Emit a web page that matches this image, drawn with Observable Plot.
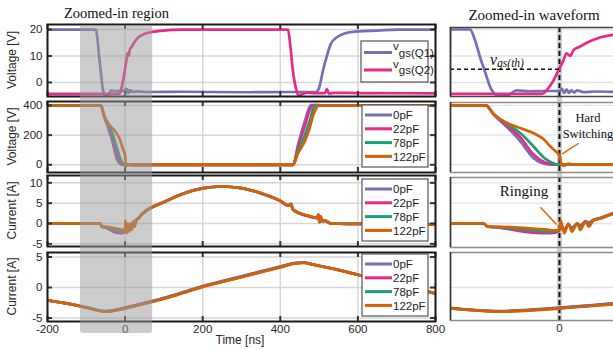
<!DOCTYPE html>
<html><head><meta charset="utf-8">
<script src="https://cdn.jsdelivr.net/npm/d3@7"></script>
<script src="https://cdn.jsdelivr.net/npm/@observablehq/plot@0.6"></script>
<style>
html,body{margin:0;padding:0;background:#fff;}
#root{position:relative;width:613px;height:350px;overflow:hidden;background:#fff;}
</style></head><body><div id="root"></div>
<script>
// ---------------- data ----------------
const xDomainL = [-200, 800];
const xTicksL = [-200, 0, 200, 400, 600, 800];
const xDomainR = [-91.6, 51.3];
const xTicksR = [0];
const switchT = [0];
const zoomRegion = [{start: -115, end: 71}];

const capLabels = ["0pF", "22pF", "78pF", "122pF"];
const capColors = ["#7570b3", "#e7298a", "#1b9e77", "#d95f02"];
const gateLabels = ["Q1", "Q2"];
const gateColors = ["#7570b3", "#e7298a"];

// gate-source voltages [V]
const tQ1 = [-200,-120,-78,-75,-72,-66,-63,-58,-52,-44,-36,-25,-12,0,2,4,6,8,10,12,15,20,30,60,150,300,440,490,495,500,505,510,520,530,545,565,600,650,700,800];
const vQ1 = [20,20,20,20,17.3,8.5,4.6,-1.9,-4.8,-4.8,-3,-3.3,-3.2,-3.2,-2.3,-3.9,-2.6,-3.9,-3,-3.7,-3,-3.6,-3.4,-3.6,-3.5,-3.7,-3.6,-3.6,-3.4,-2,1,4.5,10,14.5,17,18.5,19.3,19.6,20,20];
const tQ2 = [-200,-100,-30,-15,-10,-5,0,3,6,9,12,17,23,34,45,60,90,150,300,420,425,432,440,447,455,470,490,515,520,525,540,600,800];
const vQ2 = [-4.3,-4.3,-4.3,-4.3,-2.5,0.8,5.4,8,11,10,12.3,13.5,15,17,18,18.8,19.5,20,20,20,15,5,-2,-5,-4.5,-3.8,-4,-4,-2.5,-4.2,-3.9,-4,-4.1];
const vth = [5];

// drain-source voltage [V]
const tV = [-200,-62,-55,-44,-33,-22,-13,-8,-5,-2,0,2,4,7,12,60,300,433,446,463,476,480,486,490,498,505,520,800];
const vds0   = [400,400,335,252,158,45,5,0,0,0,0,0,-3,2,0,0,0,0,137,292,393,405,400,400,400,400,400,400];
const vds22  = [400,400,338,265,185,70,17,4,0,0,0,0,-3,2,0,0,0,0,125,260,370,390,405,400,400,400,400,400];
const vds78  = [400,400,340,275,213,124,46,20,8,0,0,0,-4,3,0,0,0,0,100,200,300,335,385,405,400,400,400,400];
const vds122 = [400,400,337,281,247,213,169,125,102,82,60,0,-8,5,0,0,0,0,80,158,250,290,345,365,405,400,400,400];

// current (upper) [A]
const tI = [-200,-64,-60,-50,-40,-30,-20,-10,-5,-2,0,1,4,7.5,10.5,15,17.5,22,24.5,28.5,35,45,50,100,150,200,250,300,350,400,420,428,432,440,460,480,495,498,501,504,508,515,531,600,800];
const i0   = [0,0,-0.8,-1.0,-1.4,-1.8,-2.1,-2.2,-2.2,-2.0,-1.5,-0.6,-1.4,-0.4,-1.0,0,-0.5,0.5,0.2,0.9,1.4,2.5,2.9,5.3,7.4,8.7,9.1,8.7,7.4,5.5,4.4,4.9,3.5,2.9,2.1,1.6,1.3,2.0,0.5,1.4,0.6,0.6,0,-0.1,-0.3];
const i22  = [0,0,-0.8,-1.0,-1.5,-2.0,-2.3,-2.4,-2.3,-2.1,-1.6,-0.5,-1.6,-0.3,-1.2,0,-0.7,0.5,0,0.8,1.4,2.5,2.9,5.3,7.4,8.7,9.1,8.7,7.4,5.5,4.4,4.8,3.5,2.9,2.1,1.6,1.3,2.1,0.4,1.5,0.6,0.7,0,-0.1,-0.3];
const i78  = [0,0,-0.8,-0.9,-1.2,-1.5,-1.8,-2.0,-2.0,-1.9,-1.4,0,-1.9,-0.2,-1.5,0,-1.0,0.5,-0.3,0.8,1.3,2.4,2.8,5.2,7.3,8.6,9.1,8.7,7.5,5.6,4.5,4.7,3.6,3.0,2.2,1.7,1.4,2.2,0.3,1.6,0.6,0.7,0,-0.1,-0.3];
const i122 = [0,0,-0.8,-0.8,-0.9,-1.1,-1.3,-1.5,-1.7,-1.7,-1.2,0.7,-2.4,0,-2,0,-1.6,0.5,-0.8,0.7,1.3,2.4,2.8,5.2,7.3,8.6,9.1,8.7,7.5,5.6,4.5,4.6,3.6,3.0,2.2,1.7,1.4,2.3,0.3,1.8,0.6,0.8,0,-0.1,-0.3];

// current (lower) [A]
const t4 = [-200,-150,-100,-50,0,45,100,150,200,250,300,350,400,440,460,480,550,600,700,800];
const j0   = [-2.1,-2.6,-3.25,-3.85,-3.3,-2.6,-1.7,-0.75,0.25,1.05,1.85,2.65,3.45,4.05,4.1,3.85,2.9,2.1,0.55,-0.95];
const j22  = [-2.1,-2.6,-3.28,-3.9,-3.35,-2.65,-1.75,-0.8,0.2,1.0,1.8,2.6,3.4,4.0,4.1,3.85,2.9,2.1,0.55,-0.95];
const j78  = [-2.1,-2.6,-3.3,-3.92,-3.4,-2.7,-1.8,-0.85,0.15,0.95,1.75,2.55,3.35,3.98,4.07,3.82,2.87,2.07,0.52,-0.98];
const j122 = [-2.1,-2.6,-3.3,-3.95,-3.45,-2.75,-1.85,-0.9,0.1,0.9,1.7,2.5,3.3,3.95,4.05,3.8,2.85,2.05,0.5,-1.0];

// annotations (data units)
const hardArrow = [{t1: 2.3, v1: 72, t2: 16.2, v2: 144}];
const ringArrow = [{t1: -2.5, v1: -0.25, t2: -16, v2: 4.0}];

// ---------------- build ----------------
const FONT = '"Liberation Sans", Arial, sans-serif';
const SERIF = '"Liberation Serif", "Times New Roman", serif';
const root = document.getElementById("root");
function place(svg, left, top) {
  svg.style.position = "absolute";
  svg.style.left = left + "px";
  svg.style.top = top + "px";
  root.appendChild(svg);
  return svg;
}
function rows(t, v, s) { return t.map((d, i) => ({t: d, v: v[i], s})); }

const vgsData = [...rows(tQ1, vQ1, "Q1"), ...rows(tQ2, vQ2, "Q2")];
const vdsData = [...rows(tV, vds0, "0pF"), ...rows(tV, vds22, "22pF"), ...rows(tV, vds78, "78pF"), ...rows(tV, vds122, "122pF")];
const iData = [...rows(tI, i0, "0pF"), ...rows(tI, i22, "22pF"), ...rows(tI, i78, "78pF"), ...rows(tI, i122, "122pF")];
const jData = [...rows(t4, j0, "0pF"), ...rows(t4, j22, "22pF"), ...rows(t4, j78, "78pF"), ...rows(t4, j122, "122pF")];

const baseStyle = {background: "transparent", fontFamily: FONT, fontSize: "11.5px", color: "#262626", overflow: "visible"};

const panels = [
  {data: vgsData, series: gateLabels, colors: gateColors, top: 24, bottom: 96, yDomain: [-5.3, 21.9], yTicks: [0, 10, 20],
   rTop: 27, rBottom: 96, rDomain: [-5.28, 20.75], rGrid: [0, 10, 20], rStroke: "#444"},
  {data: vdsData, series: capLabels, colors: capColors, top: 101, bottom: 172, yDomain: [-52, 427], yTicks: [0, 200, 400],
   rTop: 102, rBottom: 172, rDomain: [-54, 420], rGrid: [0, 200, 400], rStroke: "#8c8c8c"},
  {data: iData, series: capLabels, colors: capColors, top: 175, bottom: 246, yDomain: [-5.65, 11.8], yTicks: [-5, 0, 5, 10],
   rTop: 177, rBottom: 247, rDomain: [-5.9, 11.3], rGrid: [0, 5, 10], rStroke: "#8c8c8c"},
  {data: jData, series: capLabels, colors: capColors, top: 252, bottom: 321, yDomain: [-5.57, 5.74], yTicks: [-5, 0, 5],
   rTop: 252, rBottom: 320, rDomain: [-5.41, 5.74], rGrid: [0], rStroke: "#8c8c8c", xLabels: true}
];

const LEFT_W = 445, LML = 47, LMR = 10;
panels.forEach(p => {
  const mt = 6, mb = p.xLabels ? 24 : 6;
  const fh = p.bottom - p.top, fw = LEFT_W - LML - LMR;
  const svg = Plot.plot({
    width: LEFT_W, height: fh + mt + mb,
    marginLeft: LML, marginRight: LMR, marginTop: mt, marginBottom: mb,
    style: baseStyle,
    x: p.xLabels ? {domain: xDomainL, ticks: xTicksL, tickSize: 0, tickPadding: 3, tickFormat: d => String(d), label: null}
                 : {domain: xDomainL, axis: null},
    y: {domain: p.yDomain, ticks: p.yTicks, tickSize: 0, tickPadding: 5, tickFormat: d => String(d), label: null},
    color: {domain: p.series, range: p.colors},
    marks: [
      Plot.ruleX(xTicksL, {stroke: "#d6d6d6", strokeWidth: 1.5}),
      Plot.ruleY(p.yTicks, {stroke: "#d6d6d6", strokeWidth: 1.5}),
      Plot.line(p.data, {x: "t", y: "v", z: "s", stroke: "s", strokeWidth: 2.7, curve: "monotone-x", clip: true}),
      Plot.tickX(xTicksL, {x: d => d, insetTop: fh - 5, stroke: "#333", strokeWidth: 2}),
      Plot.tickX(xTicksL, {x: d => d, insetBottom: fh - 5, stroke: "#333", strokeWidth: 2}),
      Plot.tickY(p.yTicks, {y: d => d, insetRight: fw - 5, stroke: "#333", strokeWidth: 2}),
      Plot.tickY(p.yTicks, {y: d => d, insetLeft: fw - 5, stroke: "#333", strokeWidth: 2}),
      Plot.frame({stroke: "#1a1a1a", strokeWidth: 2})
    ]
  });
  place(svg, 0, p.top - mt);
});

// zoomed-in region shading
place(Plot.plot({
  width: LEFT_W, height: 350, marginLeft: LML, marginRight: LMR, marginTop: 25, marginBottom: 17,
  style: baseStyle,
  x: {domain: xDomainL, axis: null},
  marks: [Plot.rect(zoomRegion, {x1: "start", x2: "end", fill: "#999", fillOpacity: 0.5, rx: 3})]
}), 0, 0);

// switching instant (gray band) across right panels
const RIGHT_LEFT = 445, RIGHT_W = 175, RML = 5;
place(Plot.plot({
  width: RIGHT_W, height: 293, marginLeft: RML, marginRight: 0, marginTop: 0, marginBottom: 0,
  style: baseStyle,
  x: {domain: xDomainR, axis: null},
  marks: [Plot.ruleX(switchT, {stroke: "#d0d0d0", strokeWidth: 5})]
}), RIGHT_LEFT, 27);

panels.forEach((p, k) => {
  const mt = 6, mb = p.xLabels ? 24 : 6;
  const fh = p.rBottom - p.rTop;
  const extra = [];
  if (k === 0) extra.push(Plot.ruleY(vth, {x1: xDomainR[0], x2: 0, stroke: "#111", strokeWidth: 1.3, strokeDasharray: "4,3"}));
  if (k === 1) extra.push(Plot.link(hardArrow, {x1: "t1", y1: "v1", x2: "t2", y2: "v2", stroke: "#d95f02", strokeWidth: 1.4}));
  if (k === 2) extra.push(Plot.link(ringArrow, {x1: "t1", y1: "v1", x2: "t2", y2: "v2", stroke: "#d95f02", strokeWidth: 1.4}));
  const svg = Plot.plot({
    width: RIGHT_W, height: fh + mt + mb,
    marginLeft: RML, marginRight: 0, marginTop: mt, marginBottom: mb,
    style: baseStyle,
    x: p.xLabels ? {domain: xDomainR, ticks: xTicksR, tickSize: 0, tickPadding: 3, tickFormat: d => String(d), label: null}
                 : {domain: xDomainR, axis: null},
    y: {domain: p.rDomain, axis: null},
    color: {domain: p.series, range: p.colors},
    marks: [
      Plot.ruleY(p.rGrid, {stroke: "#e4e4e4", strokeWidth: 1.3}),
      Plot.ruleX(switchT, {stroke: "#111", strokeWidth: 2, strokeDasharray: "5,3"}),
      Plot.line(p.data, {x: "t", y: "v", z: "s", stroke: "s", strokeWidth: 2.7, curve: "monotone-x", clip: true}),
      ...extra,
      Plot.frame({stroke: p.rStroke, strokeWidth: 1.5}),
      Plot.ruleX(xDomainR.slice(0, 1), {stroke: "#333", strokeWidth: 1.5})
    ]
  });
  place(svg, RIGHT_LEFT, p.rTop - mt);
});

// ---------------- text overlay ----------------
const ov = d3.create("svg").attr("width", 613).attr("height", 350)
  .style("position", "absolute").style("left", "0px").style("top", "0px");
root.appendChild(ov.node());

ov.append("text").attr("x", 116.5).attr("y", 18).attr("text-anchor", "middle")
  .style("font-family", SERIF).style("font-size", "14.5px").attr("fill", "#111").text("Zoomed-in region");
ov.append("text").attr("x", 534).attr("y", 20).attr("text-anchor", "middle")
  .style("font-family", SERIF).style("font-size", "15px").attr("fill", "#111").text("Zoomed-in waveform");

const yLabels = ["Voltage [V]", "Voltage [V]", "Current [A]", "Current [A]"];
panels.forEach((p, k) => {
  ov.append("text").attr("transform", `translate(12,${(p.top + p.bottom) / 2}) rotate(-90)`)
    .attr("text-anchor", "middle").attr("dominant-baseline", "central")
    .style("font-family", FONT).style("font-size", "12px").attr("fill", "#262626").text(yLabels[k]);
});
ov.append("text").attr("x", 240).attr("y", 344).attr("text-anchor", "middle")
  .style("font-family", FONT).style("font-size", "12px").attr("fill", "#262626").text("Time [ns]");

// legends
function legendBox(x, y, w, h) {
  ov.append("rect").attr("x", x).attr("y", y).attr("width", w).attr("height", h)
    .attr("fill", "#fff").attr("stroke", "#555").attr("stroke-width", 1.2);
}
legendBox(361, 41, 67, 41);
[[52.5, 0], [70, 1]].forEach(([yy, i]) => {
  ov.append("line").attr("x1", 364).attr("x2", 392).attr("y1", yy).attr("y2", yy)
    .attr("stroke", gateColors[i]).attr("stroke-width", 3);
  const t = ov.append("text").attr("x", 393).attr("y", yy - 2.5)
    .style("font-family", FONT).style("font-size", "11.5px").attr("fill", "#222");
  t.append("tspan").text("v");
  t.append("tspan").attr("dy", 6.5).text("gs(" + gateLabels[i] + ")");
});
[105, 179, 254].forEach(top => {
  legendBox(362, top, 66, 62);
  capLabels.forEach((lab, i) => {
    const yy = top + 10 + i * 13.8;
    ov.append("line").attr("x1", 365).attr("x2", 392).attr("y1", yy).attr("y2", yy)
      .attr("stroke", capColors[i]).attr("stroke-width", 3);
    ov.append("text").attr("x", 393).attr("y", yy + 4.2)
      .style("font-family", FONT).style("font-size", "11.5px").attr("fill", "#222").text(lab);
  });
});

// annotations in zoomed-in waveform
const vt = ov.append("text").attr("x", 490).attr("y", 65)
  .style("font-family", SERIF).style("font-style", "italic").attr("fill", "#111");
vt.append("tspan").style("font-size", "16px").text("v");
vt.append("tspan").attr("dy", 2).style("font-size", "11.5px").text("gs(th)");
ov.append("text").attr("x", 588).attr("y", 122).attr("text-anchor", "middle")
  .style("font-family", SERIF).style("font-size", "12.5px").attr("fill", "#111").text("Hard");
ov.append("text").attr("x", 588).attr("y", 137.5).attr("text-anchor", "middle")
  .style("font-family", SERIF).style("font-size", "12.5px").attr("fill", "#111").text("Switching");
ov.append("text").attr("x", 524).attr("y", 196).attr("text-anchor", "middle")
  .style("font-family", SERIF).style("font-size", "15px").attr("fill", "#111").text("Ringing");
</script></body></html>
